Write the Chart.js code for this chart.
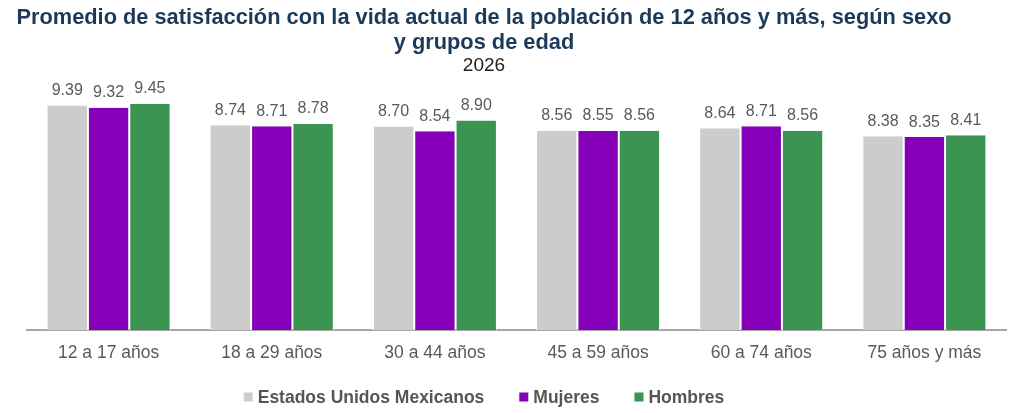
<!DOCTYPE html>
<html>
<head>
<meta charset="utf-8">
<script src="https://cdn.jsdelivr.net/npm/chart.js@4"></script>
<style>
  html, body { margin: 0; padding: 0; background: #fff; }
  #wrap { width: 1024px; height: 413px; }
</style>
</head>
<body>
<div id="wrap"><canvas id="grafica"></canvas></div>
<script>
var grupos = ['12 a 17 años', '18 a 29 años', '30 a 44 años', '45 a 59 años', '60 a 74 años', '75 años y más'];
var nacional = [9.39, 8.74, 8.70, 8.56, 8.64, 8.38];
var mujeres = [9.32, 8.71, 8.54, 8.55, 8.71, 8.35];
var hombres = [9.45, 8.78, 8.90, 8.56, 8.56, 8.41];

var titulo = ['Promedio de satisfacción con la vida actual de la población de 12 años y más, según sexo', 'y grupos de edad'];
var subtitulo = '2026';

var fuente = '"Liberation Sans", Arial, sans-serif';
var centro = 484;

// titulo centrado como en la lamina original
var encabezado = {
    id: 'encabezado',
    afterDraw: function (chart) {
        var ctx = chart.ctx;
        ctx.save();
        ctx.textAlign = 'center';
        ctx.textBaseline = 'middle';
        ctx.fillStyle = '#1b3a5a';
        ctx.font = 'bold 21.8px ' + fuente;
        ctx.fillText(titulo[0], centro, 18);
        ctx.fillText(titulo[1], centro, 43);
        ctx.fillStyle = '#222222';
        ctx.font = '19px ' + fuente;
        ctx.fillText(subtitulo, centro, 66);
        ctx.restore();
    }
};

// leyenda inferior dibujada a mano
var leyenda = {
    id: 'leyenda',
    afterDraw: function (chart) {
        var ctx = chart.ctx;
        var sets = chart.data.datasets;
        ctx.save();
        ctx.font = 'bold 17.5px ' + fuente;
        ctx.textBaseline = 'middle';
        ctx.textAlign = 'left';
        var caja = 9, sep = 5, hueco = 35, y = 397;
        var anchos = sets.map(function (ds) { return ctx.measureText(ds.label).width; });
        var total = 0;
        anchos.forEach(function (w, i) { total += caja + sep + w + (i > 0 ? hueco : 0); });
        var x = centro - total / 2;
        sets.forEach(function (ds, i) {
            ctx.fillStyle = ds.backgroundColor;
            ctx.fillRect(x, y - caja / 2, caja, caja);
            ctx.fillStyle = '#555555';
            ctx.fillText(ds.label, x + caja + sep, y + 1);
            x += caja + sep + anchos[i] + hueco;
        });
        ctx.restore();
    }
};

// etiquetas de valor sobre cada barra
var etiquetas = {
    id: 'etiquetas',
    afterDatasetsDraw: function (chart) {
        var ctx = chart.ctx;
        ctx.save();
        ctx.font = '16px ' + fuente;
        ctx.fillStyle = '#595959';
        ctx.textAlign = 'center';
        ctx.textBaseline = 'middle';
        chart.data.datasets.forEach(function (ds, i) {
            chart.getDatasetMeta(i).data.forEach(function (bar, j) {
                ctx.fillText(ds.data[j].toFixed(2), bar.x, bar.y - 15);
            });
        });
        ctx.restore();
    }
};

var ctx = document.getElementById('grafica').getContext('2d');
var grafica = new Chart(ctx, {
    type: 'bar',
    data: {
        labels: grupos,
        datasets: [{
            label: 'Estados Unidos Mexicanos',
            data: nacional,
            backgroundColor: '#cccccc',
            borderColor: '#ffffff',
            borderWidth: { left: 1, right: 1 }
        }, {
            label: 'Mujeres',
            data: mujeres,
            backgroundColor: '#8500b8',
            borderColor: '#ffffff',
            borderWidth: { left: 1, right: 1 }
        }, {
            label: 'Hombres',
            data: hombres,
            backgroundColor: '#3b9452',
            borderColor: '#ffffff',
            borderWidth: { left: 1, right: 1 }
        }]
    },
    options: {
        responsive: true,
        maintainAspectRatio: false,
        animation: false,
        layout: { padding: { left: 27, right: 18, top: 87, bottom: 36 } },
        datasets: { bar: { categoryPercentage: 0.76, barPercentage: 1 } },
        scales: {
            x: {
                grid: { display: false, drawTicks: false },
                border: { display: true, color: '#a6a6a6', width: 2 },
                ticks: {
                    color: '#595959',
                    font: { family: fuente, size: 17.5 },
                    padding: 13
                }
            },
            y: {
                display: false,
                min: 2,
                max: 10
            }
        },
        plugins: {
            legend: { display: false },
            tooltip: { enabled: false }
        }
    },
    plugins: [encabezado, etiquetas, leyenda]
});
</script>
</body>
</html>
